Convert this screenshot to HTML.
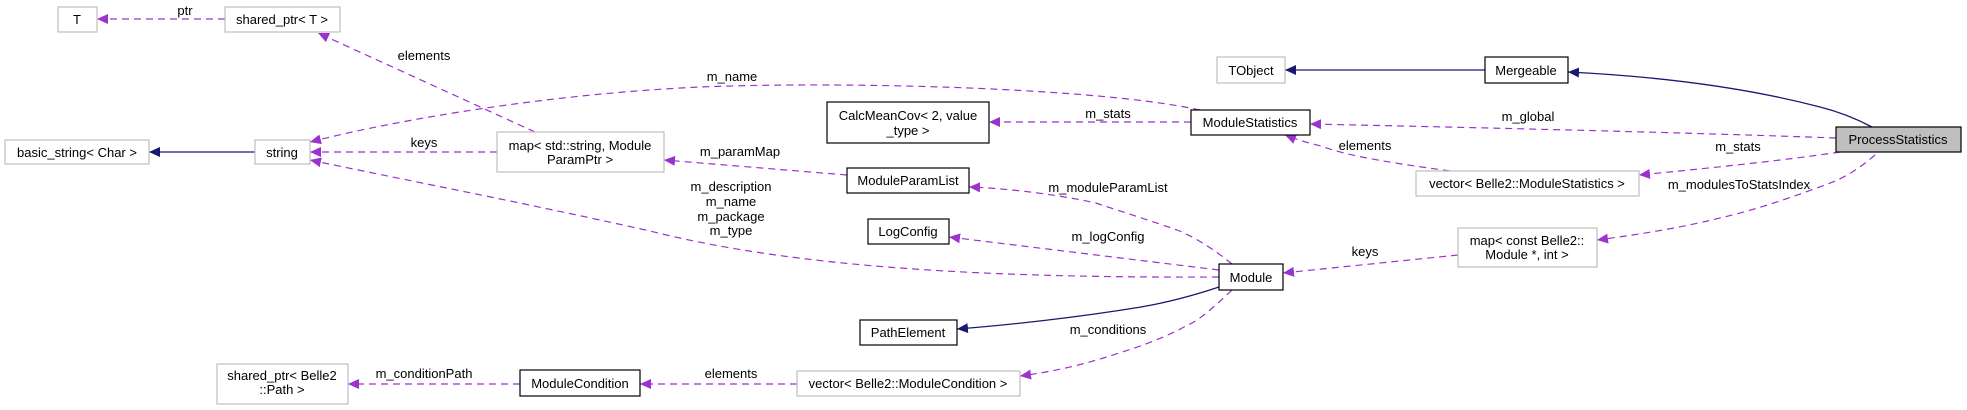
<!DOCTYPE html>
<html><head><meta charset="utf-8"><style>
html,body{margin:0;padding:0;background:#fff;width:1967px;height:410px;overflow:hidden}
svg text{font-family:"Liberation Sans",Helvetica,sans-serif;font-size:13px;fill:#000}
</style></head><body>
<svg width="1967" height="410" viewBox="0 0 1967 410" xmlns="http://www.w3.org/2000/svg">
<defs>
<marker id="p" markerWidth="12" markerHeight="10" refX="11" refY="5" orient="auto" markerUnits="userSpaceOnUse"><path d="M0,0 L11,5 L0,10 Z" fill="#9a32cd"/></marker>
<marker id="n" markerWidth="12" markerHeight="10" refX="11" refY="5" orient="auto" markerUnits="userSpaceOnUse"><path d="M0,0 L11,5 L0,10 Z" fill="#191970"/></marker>
</defs>
<g fill="none" stroke="#9a32cd" stroke-width="1.2" stroke-dasharray="7,5" marker-end="url(#p)">
<path d="M225,19 L97,19"/>
<path d="M535,132 L318,33"/>
<path d="M497,152 L310,152"/>
<path d="M1200,110 C1100,88 850,81 700,87 C550,94 400,119 310,142"/>
<path d="M1191,122 L989,122"/>
<path d="M847,175 L664,160"/>
<path d="M1219,277 C1000,278 800,269 650,231 C520,202 400,179 310,160"/>
<path d="M1232,264 C1210,246 1190,235 1177,230 C1140,217 1110,208 1096,203 C1050,193 1000,188 969,187"/>
<path d="M1219,270 L949,237"/>
<path d="M1232,290 C1215,306 1200,320 1186,326 C1160,340 1135,348 1119,353 C1080,366 1050,372 1020,376"/>
<path d="M797,384 L640,384"/>
<path d="M520,384 L348,384"/>
<path d="M1836,138 C1700,133 1500,128 1310,124"/>
<path d="M1840,152 C1780,161 1700,169 1639,175"/>
<path d="M1450,171 C1400,164 1350,157 1321,146 C1305,142 1295,139 1285,135"/>
<path d="M1875,155 C1860,168 1845,178 1825,185 C1790,198 1760,208 1736,214 C1690,226 1650,233 1597,240"/>
<path d="M1458,255 L1283,273"/>
</g>
<g fill="none" stroke="#191970" stroke-width="1.3" marker-end="url(#n)">
<path d="M255,152 L149,152"/>
<path d="M1485,70 L1285,70"/>
<path d="M1872,127 C1855,118 1840,112 1820,107 C1740,86 1650,76 1568,72"/>
<path d="M1219,287 C1195,295 1170,302 1141,307 C1080,317 1010,325 957,329"/>
</g>
<g stroke-width="1.2">
<rect x="58" y="7" width="39" height="25" fill="#fff" stroke="#bfbfbf"/>
<rect x="225" y="7" width="115" height="25" fill="#fff" stroke="#bfbfbf"/>
<rect x="5" y="140" width="144" height="24" fill="#fff" stroke="#bfbfbf"/>
<rect x="255" y="140" width="55" height="24" fill="#fff" stroke="#bfbfbf"/>
<rect x="497" y="132" width="167" height="40" fill="#fff" stroke="#bfbfbf"/>
<rect x="827" y="102" width="162" height="41" fill="#fff" stroke="#000"/>
<rect x="1191" y="110" width="119" height="25" fill="#fff" stroke="#000"/>
<rect x="1217" y="57" width="68" height="26" fill="#fff" stroke="#bfbfbf"/>
<rect x="1485" y="57" width="83" height="26" fill="#fff" stroke="#000"/>
<rect x="1836" y="127" width="125" height="25" fill="#bfbfbf" stroke="#000"/>
<rect x="1416" y="171" width="223" height="25" fill="#fff" stroke="#bfbfbf"/>
<rect x="1458" y="228" width="139" height="39" fill="#fff" stroke="#bfbfbf"/>
<rect x="847" y="168" width="122" height="25" fill="#fff" stroke="#000"/>
<rect x="868" y="219" width="81" height="25" fill="#fff" stroke="#000"/>
<rect x="1219" y="264" width="64" height="26" fill="#fff" stroke="#000"/>
<rect x="860" y="320" width="97" height="25" fill="#fff" stroke="#000"/>
<rect x="797" y="371" width="223" height="25" fill="#fff" stroke="#bfbfbf"/>
<rect x="520" y="370" width="120" height="26" fill="#fff" stroke="#000"/>
<rect x="217" y="364" width="131" height="40" fill="#fff" stroke="#bfbfbf"/>
</g>
<g text-anchor="middle">
<text x="77" y="24">T</text>
<text x="282" y="24">shared_ptr&lt; T &gt;</text>
<text x="77" y="157">basic_string&lt; Char &gt;</text>
<text x="282" y="157">string</text>
<text x="580" y="150">map&lt; std::string, Module</text>
<text x="580" y="164">ParamPtr &gt;</text>
<text x="908" y="120">CalcMeanCov&lt; 2, value</text>
<text x="908" y="135">_type &gt;</text>
<text x="1250" y="127">ModuleStatistics</text>
<text x="1251" y="75">TObject</text>
<text x="1526" y="75">Mergeable</text>
<text x="1898" y="144">ProcessStatistics</text>
<text x="1527" y="188">vector&lt; Belle2::ModuleStatistics &gt;</text>
<text x="1527" y="245">map&lt; const Belle2::</text>
<text x="1527" y="259">Module *, int &gt;</text>
<text x="908" y="185">ModuleParamList</text>
<text x="908" y="236">LogConfig</text>
<text x="1251" y="282">Module</text>
<text x="908" y="337">PathElement</text>
<text x="908" y="388">vector&lt; Belle2::ModuleCondition &gt;</text>
<text x="580" y="388">ModuleCondition</text>
<text x="282" y="380">shared_ptr&lt; Belle2</text>
<text x="282" y="394">::Path &gt;</text>
<text x="185" y="15">ptr</text>
<text x="424" y="60">elements</text>
<text x="424" y="147">keys</text>
<text x="732" y="81">m_name</text>
<text x="1108" y="118">m_stats</text>
<text x="740" y="156">m_paramMap</text>
<text x="731" y="191">m_description</text>
<text x="731" y="206">m_name</text>
<text x="731" y="221">m_package</text>
<text x="731" y="235">m_type</text>
<text x="1108" y="192">m_moduleParamList</text>
<text x="1108" y="241">m_logConfig</text>
<text x="1108" y="334">m_conditions</text>
<text x="731" y="378">elements</text>
<text x="424" y="378">m_conditionPath</text>
<text x="1528" y="121">m_global</text>
<text x="1738" y="151">m_stats</text>
<text x="1365" y="150">elements</text>
<text x="1739" y="189">m_modulesToStatsIndex</text>
<text x="1365" y="256">keys</text>
</g>
</svg>
</body></html>
